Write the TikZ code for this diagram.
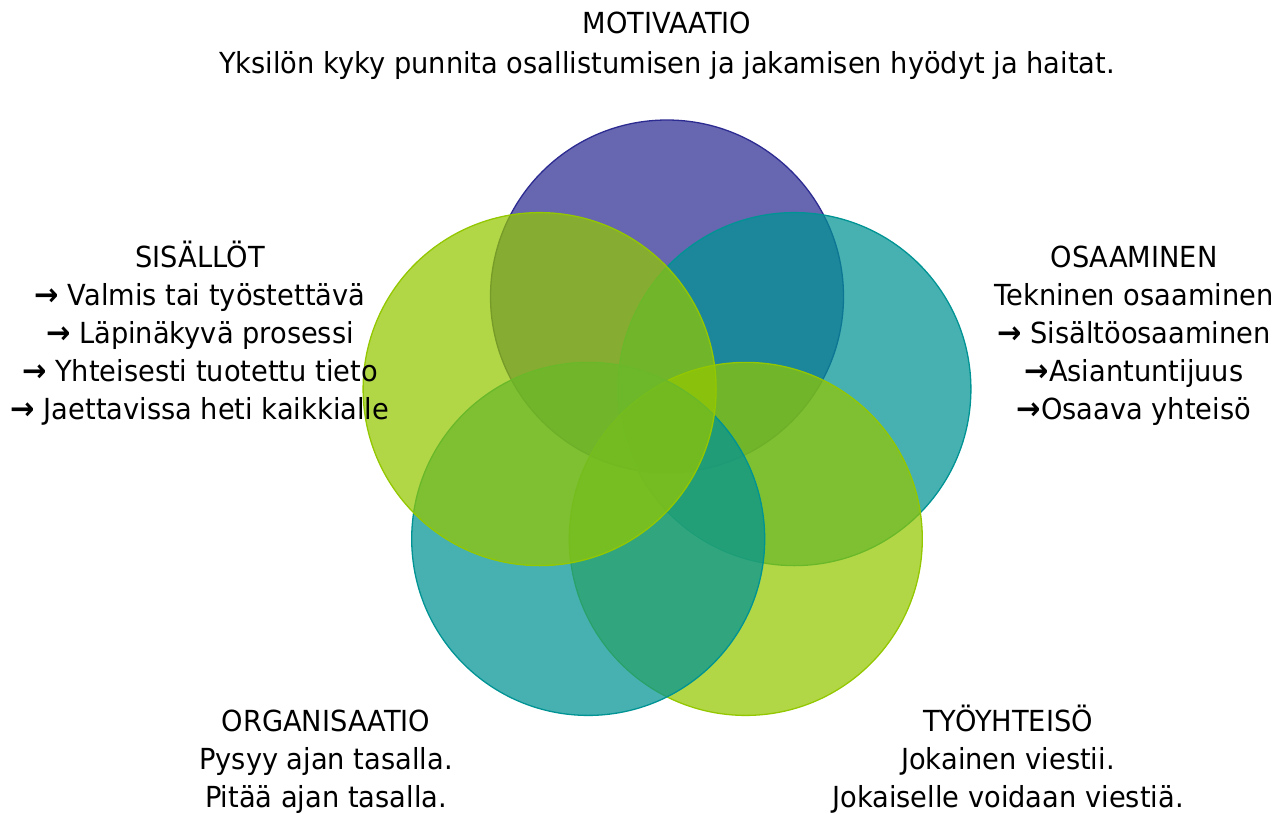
\documentclass[tikz,border=0pt]{standalone}
\usepackage{fontspec}
\setmainfont[FakeStretch=0.94]{DejaVu Sans}
\definecolor{purpF}{RGB}{44,43,145}
\definecolor{tealF}{RGB}{0,147,148}
\definecolor{limeF}{RGB}{147,199,0}
\newcommand\myarr{{\bfseries\fontsize{31}{38}\selectfont →}}
\begin{document}
\begin{tikzpicture}[x=1pt,y=-1pt,
  circ/.style={circle, minimum size=353pt, inner sep=0pt, line width=1.3pt, fill opacity=0.72, draw opacity=1},
  lbl/.style={anchor=base, inner sep=0pt, font=\fontsize{29}{38}\selectfont}]
\useasboundingbox (0,0) rectangle (1286,814);
% circles
\node[circ, fill=purpF, draw=purpF] (top) at (667,296.5) {};
\node[circ, fill=tealF, draw=tealF] (right) at (794.4,389.1) {};
\node[circ, fill=limeF, draw=limeF] (bright) at (745.8,538.9) {};
\node[circ, fill=tealF, draw=tealF] (bleft) at (588.2,538.9) {};
\node[circ, fill=limeF, draw=limeF] (left) at (539.6,389.1) {};
% MOTIVAATIO
\node[lbl] (m1) at (667,33.5) {MOTIVAATIO};
\node[lbl] (m2) at (667,73.5) {Yksilön kyky punnita osallistumisen ja jakamisen hyödyt ja haitat.};
% SISÄLLÖT
\node[lbl] (s1) at (200,267.5) {SISÄLLÖT};
\node[lbl] (s2) at (200,305.5) {\myarr{} Valmis tai työstettävä};
\node[lbl] (s3) at (200,343.5) {\myarr{} Läpinäkyvä prosessi};
\node[lbl] (s4) at (200,381.5) {\myarr{} Yhteisesti tuotettu tieto};
\node[lbl] (s5) at (200,419.5) {\myarr{} Jaettavissa heti kaikkialle};
% OSAAMINEN
\node[lbl] (o1) at (1134,267.5) {OSAAMINEN};
\node[lbl] (o2) at (1134,305.5) {Tekninen osaaminen};
\node[lbl] (o3) at (1134,343.5) {\myarr{} Sisältöosaaminen};
\node[lbl] (o4) at (1134,381.5) {\myarr{}Asiantuntijuus};
\node[lbl] (o5) at (1134,419.5) {\myarr{}Osaava yhteisö};
% ORGANISAATIO
\node[lbl] (g1) at (326,731.5) {ORGANISAATIO};
\node[lbl] (g2) at (326,769.5) {Pysyy ajan tasalla.};
\node[lbl] (g3) at (326,807.5) {Pitää ajan tasalla.};
% TYÖYHTEISÖ
\node[lbl] (t1) at (1008,731.5) {TYÖYHTEISÖ};
\node[lbl] (t2) at (1008,769.5) {Jokainen viestii.};
\node[lbl] (t3) at (1008,807.5) {Jokaiselle voidaan viestiä.};
\end{tikzpicture}
\end{document}
